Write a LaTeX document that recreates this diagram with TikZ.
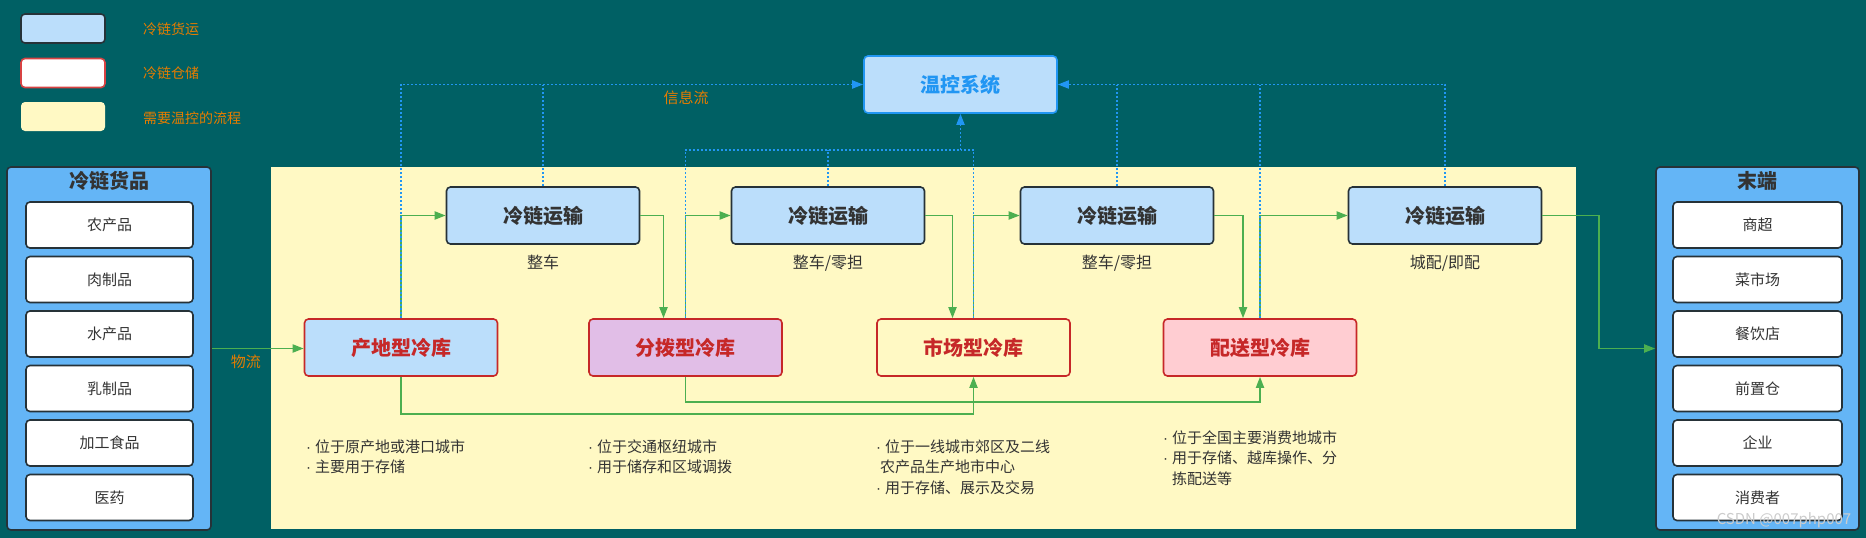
\documentclass[tikz,border=0pt]{standalone}
\usepackage{fontspec}
\setmainfont{Noto Sans CJK SC}
\newfontfamily\latinfont{Liberation Sans}
\usetikzlibrary{arrows.meta,positioning,calc}

\definecolor{bgteal}{RGB}{0,96,100}
\definecolor{lightblue}{HTML}{BBDEFB}
\definecolor{midblue}{HTML}{64B5F6}
\definecolor{darkline}{HTML}{263238}
\definecolor{redline}{HTML}{C62828}
\definecolor{legred}{HTML}{D84343}
\definecolor{paleyellow}{HTML}{FFF9C4}
\definecolor{palepink}{HTML}{FFCDD2}
\definecolor{palepurple}{HTML}{E1BEE7}
\definecolor{flowgreen}{HTML}{4CAF50}
\definecolor{infoblue}{HTML}{2196F3}
\definecolor{tagorange}{RGB}{230,124,0}
\definecolor{textgray}{HTML}{333333}

% narrow bullet for the notes
\newcommand\bul{{\latinfont ·}\hspace{4pt}}

\begin{document}
\begin{tikzpicture}[x=1pt,y=-1pt,
  box/.style={draw=darkline, line width=1.6pt, rounded corners=4pt, inner sep=0pt},
  ship/.style={box, fill=lightblue, minimum width=193pt, minimum height=57pt,
    font=\fontsize{20}{24}\selectfont\bfseries, text=textgray},
  store/.style={draw=redline, line width=1.6pt, rounded corners=4pt, inner sep=0pt,
    minimum width=193pt, minimum height=57pt,
    font=\fontsize{20}{24}\selectfont\bfseries, text=redline},
  item/.style={box, fill=white, minimum height=46pt,
    font=\fontsize{15}{18}\selectfont, text=textgray},
  panel/.style={box, fill=midblue, minimum height=363pt},
  head/.style={font=\fontsize{20}{24}\selectfont\bfseries, text=textgray, inner sep=0pt},
  sub/.style={font=\fontsize{16}{19}\selectfont, text=textgray, inner sep=0pt},
  note/.style={anchor=north west, align=left, inner sep=0pt,
    font=\fontsize{15}{20.5}\selectfont, text=textgray},
  tag/.style={font=\fontsize{15}{18}\selectfont, text=tagorange, inner sep=0pt},
  legbox/.style={rounded corners=4pt, line width=1.6pt, minimum width=84pt, minimum height=29pt},
  flow/.style={draw=flowgreen, line width=1.8pt, -{Triangle[length=11pt,width=8pt]}},
  info/.style={draw=infoblue, line width=1.8pt, dash pattern=on 2pt off 2pt},
  infoarrow/.style={info, -{Triangle[length=11pt,width=8pt]}}
]
% canvas
\useasboundingbox (0,0) rectangle (1866,538);
\fill[bgteal] (0,0) rectangle (1866,538);
% area that needs temperature control
\fill[paleyellow] (271,167) rectangle (1576,529);

% legend
\node[legbox, draw=darkline, fill=lightblue] (lg1) at (63,28.5) {};
\node[legbox, draw=legred, fill=white] (lg2) at (63,73) {};
\node[legbox, fill=paleyellow] (lg3) at (63,116.5) {};
\node[tag, anchor=west, font=\fontsize{14}{17}\selectfont] (lgt1) at (143,29) {冷链货运};
\node[tag, anchor=west, font=\fontsize{14}{17}\selectfont] (lgt2) at (143,73) {冷链仓储};
\node[tag, anchor=west, font=\fontsize{14}{17}\selectfont] (lgt3) at (143,118) {需要温控的流程};

% goods panel
\node[panel, minimum width=204pt] (goods) at (109,348.5) {};
\node[head] (goodsT) at (109,181) {冷链货品};
\foreach \i/\t in {1/农产品,2/肉制品,3/水产品,4/乳制品,5/加工食品,6/医药} {
  \node[item, minimum width=167pt] (g\i) at (109.5,{225+54.5*(\i-1)}) {\t};
}

% end panel
\node[panel, minimum width=203pt] (ends) at (1757.5,348.5) {};
\node[head] (endsT) at (1757.5,181) {末端};
\foreach \i/\t in {1/商超,2/菜市场,3/餐饮店,4/前置仓,5/企业,6/消费者} {
  \node[item, minimum width=169pt] (e\i) at (1757.5,{225+54.5*(\i-1)}) {\t};
}

% temperature control system
\node[draw=infoblue, fill=lightblue, line width=1.6pt, rounded corners=4pt,
  minimum width=193pt, minimum height=57pt, text=infoblue,
  font=\fontsize{20}{24}\selectfont\bfseries] (ctrl) at (960.5,84.5) {温控系统};

% transport
\node[ship] (T1) at (543,215.5) {冷链运输};
\node[ship] (T2) at (828,215.5) {冷链运输};
\node[ship] (T3) at (1117,215.5) {冷链运输};
\node[ship] (T4) at (1445,215.5) {冷链运输};
\node[sub, below=10pt of T1] (T1s) {整车};
\node[sub, below=10pt of T2] (T2s) {整车/零担};
\node[sub, below=10pt of T3] (T3s) {整车/零担};
\node[sub, below=10pt of T4] (T4s) {城配/即配};

% storage
\node[store, fill=lightblue] (P) at (401,347.5) {产地型冷库};
\node[store, fill=palepurple] (F) at (685.5,347.5) {分拨型冷库};
\node[store] (S) at (973.5,347.5) {市场型冷库};
\node[store, fill=palepink] (D) at (1260,347.5) {配送型冷库};

% notes
\node[note] (Pn) at (306,439.5) {\bul 位于原产地或港口城市\\\bul 主要用于存储};
\node[note] (Fn) at (588,439.5) {\bul 位于交通枢纽城市\\\bul 用于储存和区域调拨};
\node[note] (Sn) at (876,439.5) {\bul 位于一线城市郊区及二线\\\hspace*{4pt}农产品生产地市中心\\\bul 用于存储、展示及交易};
\node[note] (Dn) at (1163,430.5) {\bul 位于全国主要消费地城市\\\bul 用于存储、越库操作、分\\\phantom{\bul}拣配送等};

% goods flow
\draw[flow] (goods.east) -- (goods.east -| P.west)
  node[tag, pos=0.37, below=5pt] (flowT) {物流};
\draw[flow] (P.north) |- (T1.west);
\draw[flow] (T1.east) -| ([xshift=-22pt]F.north);
\draw[flow] (F.north) |- (T2.west);
\draw[flow] (T2.east) -| ([xshift=-21pt]S.north);
\draw[flow] (S.north) |- (T3.west);
\draw[flow] (T3.east) -| ([xshift=-17pt]D.north);
\draw[flow] (D.north) |- (T4.west);
\draw[flow] (T4.east) -- ++(57,0) |- (ends.west);
\draw[flow] (P.south) -- ++(0,37) -| (S.south);
\draw[flow] (F.south) -- ++(0,25) -| (D.south);

% information flow
\coordinate (midJ) at (ctrl.south |- 0,150);
\draw[infoarrow] (P.north) |- (ctrl.west);
\draw[info] (T1.north) -- (T1.north |- ctrl.west);
\draw[info] (F.north) |- (midJ);
\draw[infoarrow] (midJ) -- (ctrl.south);
\draw[info] (T2.north) -- (T2.north |- midJ);
\draw[info] (S.north) |- (midJ);
\draw[info] (T3.north) -- (T3.north |- ctrl.east);
\draw[info] (D.north) -- (D.north |- ctrl.east);
\draw[infoarrow] (T4.north) |- (ctrl.east);
\node[tag] (infoT) at (686,98) {信息流};

% watermark
\node[font=\fontsize{15}{18}\selectfont, text=white!80!black, inner sep=0pt] (mark) at (1784,520) {CSDN @007php007};
\end{tikzpicture}
\end{document}
